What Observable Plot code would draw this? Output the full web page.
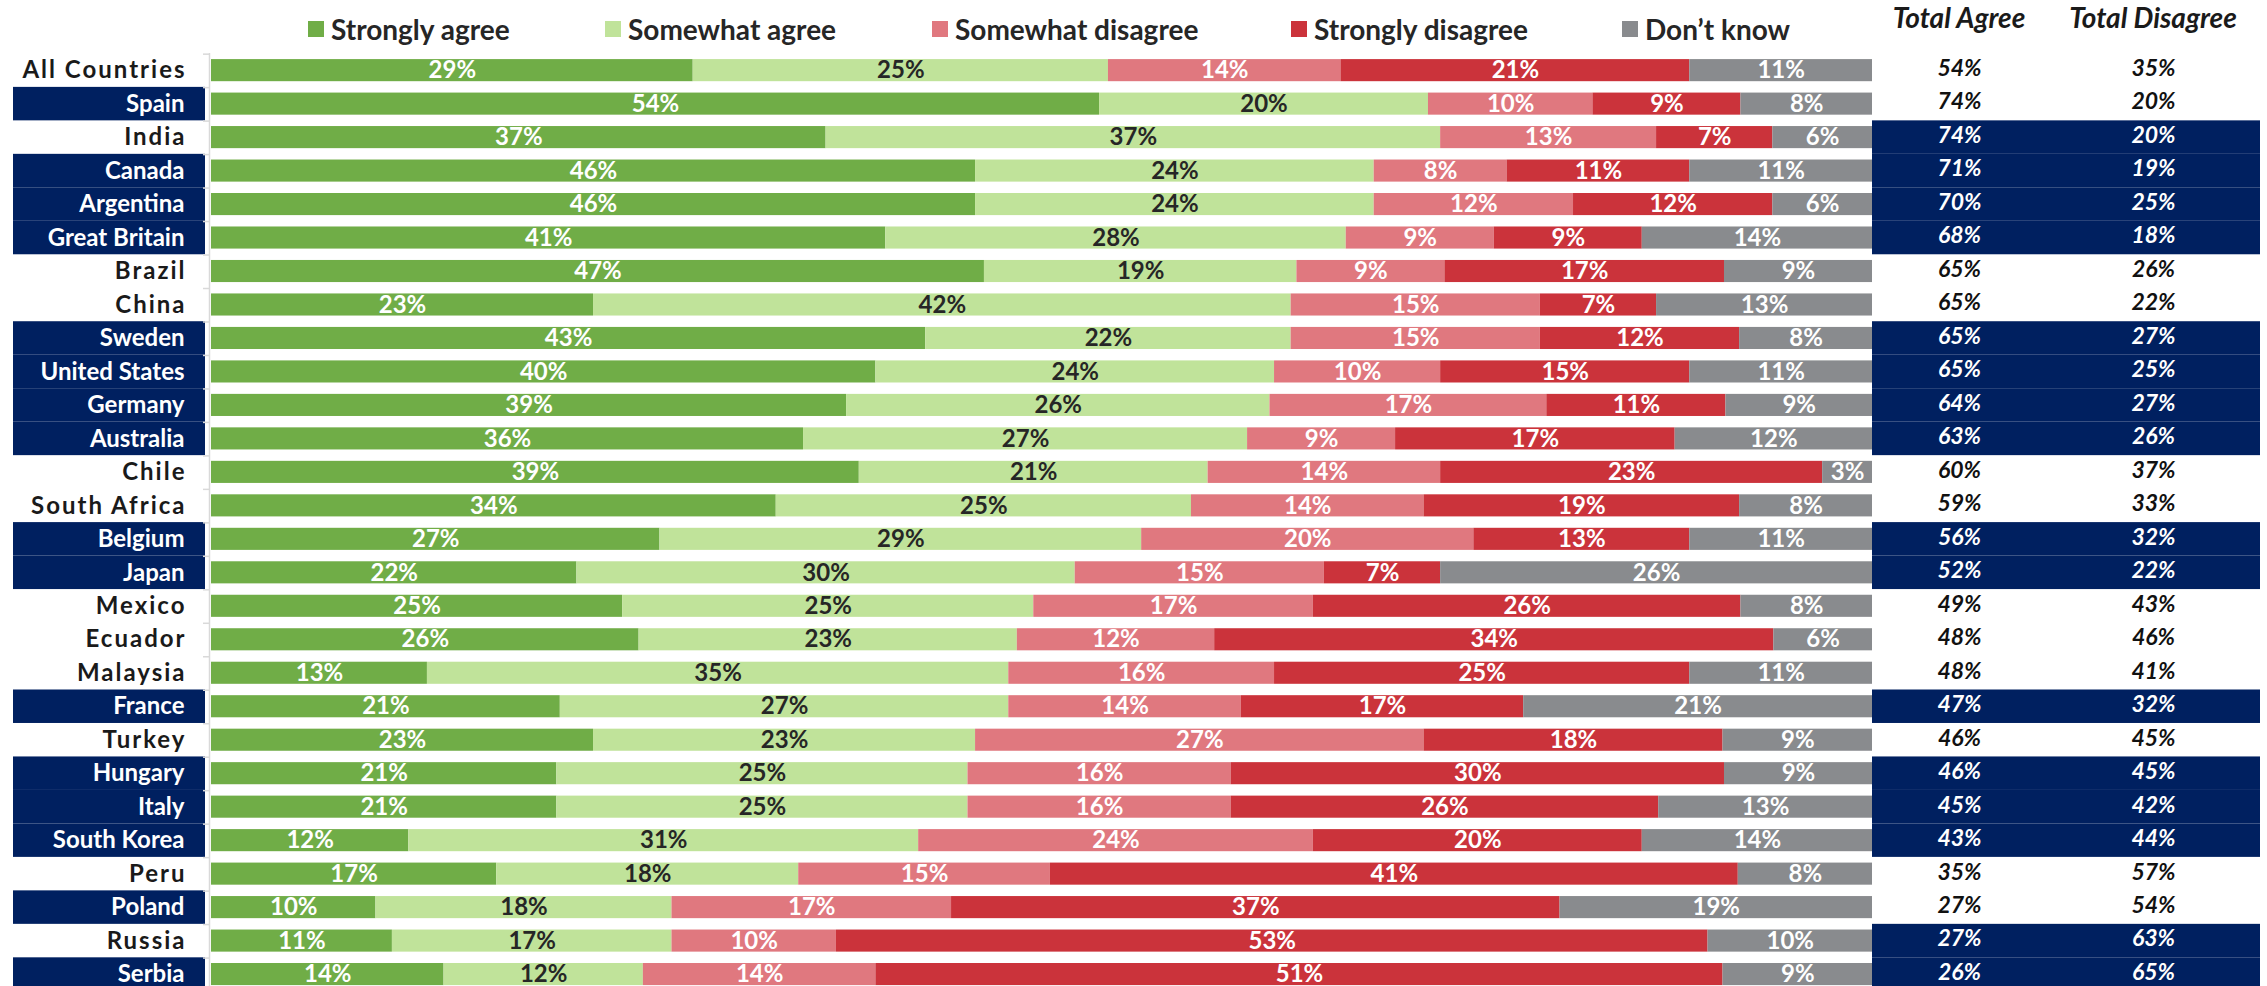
<!DOCTYPE html>
<html>
<head>
<meta charset="utf-8">
<script src="https://cdn.jsdelivr.net/npm/d3@7"></script>
<script src="https://cdn.jsdelivr.net/npm/@observablehq/plot@0.6"></script>
<style>
  html, body { margin: 0; padding: 0; background: #fff; }
  #wrap { position: relative; width: 2267px; height: 986px; font-family: Lato, "Open Sans", sans-serif; }
  #header { position: relative; width: 2267px; height: 45px; }
  .leg { position: absolute; top: 13px; height: 32px; display: flex; align-items: center; font-weight: 700; font-size: 28px; color: #262626; white-space: nowrap; }
  .sw { width: 16px; height: 16px; margin-right: 7px; }
  .colhead { position: absolute; top: 2px; width: 260px; margin-left: -130px; text-align: center; font-weight: 700; font-style: italic; font-size: 28px; line-height: 30px; color: #1a1a1a; }
  #chart svg { display: block; }
</style>
</head>
<body>
<div id="wrap">
  <div id="header"></div>
  <div id="chart"></div>
</div>
<script>
// ---------- data ----------
const countries = ["All Countries","Spain","India","Canada","Argentina","Great Britain","Brazil","China","Sweden","United States","Germany","Australia","Chile","South Africa","Belgium","Japan","Mexico","Ecuador","Malaysia","France","Turkey","Hungary","Italy","South Korea","Peru","Poland","Russia","Serbia"];
const stronglyAgree    = [29,54,37,46,46,41,47,23,43,40,39,36,39,34,27,22,25,26,13,21,23,21,21,12,17,10,11,14];
const somewhatAgree    = [25,20,37,24,24,28,19,42,22,24,26,27,21,25,29,30,25,23,35,27,23,25,25,31,18,18,17,12];
const somewhatDisagree = [14,10,13, 8,12, 9, 9,15,15,10,17, 9,14,14,20,15,17,12,16,14,27,16,16,24,15,17,10,14];
const stronglyDisagree = [21, 9, 7,11,12, 9,17, 7,12,15,11,17,23,19,13, 7,26,34,25,17,18,30,26,20,41,37,53,51];
const dontKnow         = [11, 8, 6,11, 6,14, 9,13, 8,11, 9,12, 3, 8,11,26, 8, 6,11,21, 9, 9,13,14, 8,19,10, 9];
const totalAgree       = [54,74,74,71,70,68,65,65,65,65,64,63,60,59,56,52,49,48,48,47,46,46,45,43,35,27,27,26];
const totalDisagree    = [35,20,20,19,25,18,26,22,27,25,27,26,37,33,32,22,43,46,41,32,45,45,42,44,57,54,63,65];
const categories = ["Strongly agree","Somewhat agree","Somewhat disagree","Strongly disagree","Don’t know"];
const colors = ["#70AD47","#C0E39A","#E0787F","#CB333B","#898B8E"];
const leftHighlight  = ["Spain","Canada","Argentina","Great Britain","Sweden","United States","Germany","Australia","Belgium","Japan","France","Hungary","Italy","South Korea","Poland","Serbia"];
const rightHighlight = ["India","Canada","Argentina","Great Britain","Sweden","United States","Germany","Australia","Belgium","Japan","France","Hungary","Italy","South Korea","Russia","Serbia"];
const totalHeaders = ["Total Agree","Total Disagree"];

// ---------- tidy table ----------
const series = [stronglyAgree, somewhatAgree, somewhatDisagree, stronglyDisagree, dontKnow];
const long = [];
countries.forEach((c, i) => series.forEach((vals, k) => long.push({country: c, category: categories[k], value: vals[i]})));
const rows = countries.map((c, i) => ({country: c, agree: totalAgree[i], disagree: totalDisagree[i]}));

// ---------- header (legend + column titles) ----------
const NAVY = "#002060";
const header = document.getElementById("header");
const legendX = [308, 605, 932, 1291, 1622];
categories.forEach((cat, k) => {
  const d = document.createElement("div");
  d.className = "leg";
  d.style.left = legendX[k] + "px";
  d.innerHTML = `<span class="sw" style="background:${colors[k]}"></span><span>${cat}</span>`;
  header.appendChild(d);
});
const headX = [1959, 2153];
totalHeaders.forEach((t, k) => {
  const d = document.createElement("div");
  d.className = "colhead";
  d.style.left = headX[k] + "px";
  d.textContent = t;
  header.appendChild(d);
});

// ---------- chart ----------
const step = 33.48, padIn = 0.34;
const bw = step * (1 - padIn);
const gap = (step - bw) / 2;
const FONT = 24;

const plot = Plot.plot({
  width: 2267,
  height: 941,
  marginLeft: 211,
  marginRight: 395,
  marginTop: 8,
  marginBottom: 0,
  style: {fontFamily: "Lato, 'Open Sans', sans-serif", background: "white", overflow: "visible"},
  x: {domain: [0, 1], axis: null},
  y: {domain: countries, range: [8.4, 945.8], paddingInner: padIn, paddingOuter: padIn / 2, round: false, axis: null},
  color: {domain: categories, range: colors},
  marks: [
    // navy highlight boxes
    Plot.barX(leftHighlight, {y: d => d, x1: 0, x2: 0, fill: NAVY, insetLeft: -198, insetRight: 6, insetTop: -gap, insetBottom: -gap}),
    Plot.barX(rightHighlight, {y: d => d, x1: 1, x2: 1, fill: NAVY, insetLeft: 0, insetRight: -388, insetTop: -gap, insetBottom: -gap}),
    // category axis line and tick marks
    Plot.ruleX([0], {dx: -2, stroke: "#d9d9d9", strokeWidth: 1.5}),
    Plot.barX(countries, {y: d => d, x1: 0, x2: 0, fill: "#d9d9d9", insetLeft: -8, insetRight: 2, insetTop: -gap, insetBottom: bw + gap - 1.5}),
    // stacked bars
    Plot.barX(long, Plot.stackX({x: "value", y: "country", fill: "category", offset: "normalize"})),
    // labels inside segments
    Plot.text(long, Plot.stackX({x: "value", y: "country", offset: "normalize",
      text: d => d.category === "Somewhat agree" ? "" : d.value + "%",
      fill: "white", fontWeight: "bold", fontSize: FONT})),
    Plot.text(long, Plot.stackX({x: "value", y: "country", offset: "normalize",
      text: d => d.category === "Somewhat agree" ? d.value + "%" : "",
      fill: "#262626", fontWeight: "bold", fontSize: FONT})),
    // country labels
    Plot.text(countries.filter(c => leftHighlight.includes(c)), {x: 0, y: d => d, text: d => d, textAnchor: "end", dx: -27,
      fill: "white", fontWeight: "bold", fontSize: FONT}),
    Plot.text(countries.filter(c => !leftHighlight.includes(c)), {x: 0, y: d => d, text: d => d, textAnchor: "end", dx: -25,
      fill: "#1a1a1a", fontWeight: "bold", fontSize: FONT}),
    // totals
    Plot.text(rows.filter(r => rightHighlight.includes(r.country)), {x: 1, y: "country", text: d => d.agree + "%", dx: 87, dy: -2,
      fill: "white", fontWeight: "bold", fontStyle: "italic", fontSize: 23}),
    Plot.text(rows.filter(r => !rightHighlight.includes(r.country)), {x: 1, y: "country", text: d => d.agree + "%", dx: 87, dy: -2,
      fill: "#111", fontWeight: "bold", fontStyle: "italic", fontSize: 23}),
    Plot.text(rows.filter(r => rightHighlight.includes(r.country)), {x: 1, y: "country", text: d => d.disagree + "%", dx: 281, dy: -2,
      fill: "white", fontWeight: "bold", fontStyle: "italic", fontSize: 23}),
    Plot.text(rows.filter(r => !rightHighlight.includes(r.country)), {x: 1, y: "country", text: d => d.disagree + "%", dx: 281, dy: -2,
      fill: "#111", fontWeight: "bold", fontStyle: "italic", fontSize: 23})
  ]
});

const plain = countries.filter(c => !leftHighlight.includes(c));
d3.select(plot).selectAll("text")
  .filter(function() { return plain.includes(this.textContent); })
  .style("letter-spacing", "2px");

document.getElementById("chart").appendChild(plot);
</script>
</body>
</html>
